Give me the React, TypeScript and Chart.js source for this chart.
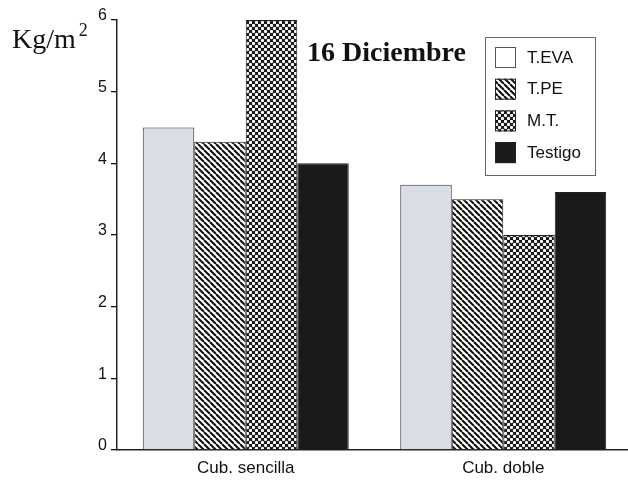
import React, { useEffect, useRef } from "react";
import { Chart, registerables } from "chart.js";

Chart.register(...registerables);

const categories = ["Cub. sencilla", "Cub. doble"];
const seriesNames = ["T.EVA", "T.PE", "M.T.", "Testigo"];
const tEva = [4.5, 3.7];
const tPe = [4.3, 3.5];
const mT = [6.0, 3.0];
const testigo = [4.0, 3.6];
const yTicks = [0, 1, 2, 3, 4, 5, 6];
const unitLabel = "Kg/m";
const unitSup = "2";
const dateTitle = "16 Diciembre";

function makeStripes(): CanvasPattern | string {
  const c = document.createElement("canvas");
  c.width = 6;
  c.height = 6;
  const g = c.getContext("2d");
  if (!g) return "#888";
  g.fillStyle = "#ffffff";
  g.fillRect(0, 0, 6, 6);
  g.strokeStyle = "#0d0d0d";
  g.lineWidth = 2.0;
  for (const k of [-6, 0, 6]) {
    g.beginPath();
    g.moveTo(k, 0);
    g.lineTo(k + 6, 6);
    g.stroke();
  }
  return g.createPattern(c, "repeat") || "#888";
}

function makeDots(): CanvasPattern | string {
  const c = document.createElement("canvas");
  c.width = 6;
  c.height = 6;
  const g = c.getContext("2d");
  if (!g) return "#777";
  g.fillStyle = "#151515";
  g.fillRect(0, 0, 6, 6);
  g.fillStyle = "#ffffff";
  for (const [x, y] of [[1.5, 1.5], [4.5, 4.5]]) {
    g.beginPath();
    g.arc(x, y, 1.65, 0, Math.PI * 2);
    g.fill();
  }
  return g.createPattern(c, "repeat") || "#777";
}

export default function App() {
  const ref = useRef<HTMLCanvasElement | null>(null);

  useEffect(() => {
    if (!ref.current) return;
    const stripes = makeStripes();
    const dots = makeDots();
    const fills: (string | CanvasPattern)[] = ["#d9dee5", stripes, dots, "#1a1a1a"];
    const values = [tEva, tPe, mT, testigo];

    const overlay = {
      id: "overlay",
      afterDraw(chart: any) {
        const ctx = chart.ctx as CanvasRenderingContext2D;
        ctx.save();
        ctx.fillStyle = "#111";
        ctx.textBaseline = "alphabetic";
        ctx.textAlign = "left";
        ctx.font = "28px 'Liberation Serif', 'Times New Roman', serif";
        ctx.fillText(unitLabel, 12, 48);
        const w = ctx.measureText(unitLabel).width;
        ctx.font = "18px 'Liberation Serif', 'Times New Roman', serif";
        ctx.fillText(unitSup, 12 + w + 3, 36);
        ctx.font = "bold 28px 'Liberation Serif', 'Times New Roman', serif";
        ctx.fillText(dateTitle, 307, 61);

        // legend
        ctx.strokeStyle = "#666";
        ctx.lineWidth = 1;
        ctx.strokeRect(485.5, 37.5, 110, 138);
        ctx.font = "17px 'Liberation Sans', Arial, sans-serif";
        ctx.textBaseline = "middle";
        chart.data.datasets.forEach((ds: any, i: number) => {
          const cy = 57 + i * 31.7;
          ctx.fillStyle = i === 0 ? "#ffffff" : ds.backgroundColor;
          ctx.fillRect(495, cy - 10, 21, 21);
          ctx.strokeStyle = i === 0 ? "#555" : "#222";
          ctx.lineWidth = 1;
          ctx.strokeRect(495.5, cy - 9.5, 20, 20);
          ctx.fillStyle = "#111";
          ctx.fillText(ds.label, 527, cy + 1);
        });
        ctx.restore();
      },
    };

    const chart = new Chart(ref.current, {
      type: "bar",
      data: {
        labels: categories,
        datasets: seriesNames.map((name, i) => ({
          label: name,
          data: values[i],
          backgroundColor: fills[i] as any,
          borderColor: i === 0 ? "#333" : "#222",
          borderWidth: 1,
          categoryPercentage: 0.8,
          barPercentage: 1.0,
        })),
      },
      options: {
        responsive: false,
        animation: false,
        layout: { padding: { top: 20, left: 0, right: 0, bottom: 0 } },
        plugins: {
          legend: { display: false },
          tooltip: { enabled: false },
          title: { display: false },
        },
        scales: {
          x: {
            grid: { display: false },
            border: { display: true, color: "#222", width: 1.5 },
            ticks: {
              color: "#111",
              padding: 0,
              font: { family: "'Liberation Sans', Arial, sans-serif", size: 17 },
            },
            afterFit(scale: any) {
              scale.height = 30;
            },
          },
          y: {
            min: 0,
            max: 6,
            afterBuildTicks(scale: any) {
              scale.ticks = yTicks.map((v) => ({ value: v }));
            },
            grid: {
              drawOnChartArea: false,
              drawTicks: true,
              tickLength: 6,
              color: "#111",
              lineWidth: 1.3,
            },
            border: { display: true, color: "#222", width: 1.5 },
            ticks: {
              color: "#111",
              padding: 4,
              labelOffset: -4,
              font: { family: "'Liberation Sans', Arial, sans-serif", size: 16 },
            },
            afterFit(scale: any) {
              scale.width = 117;
            },
          },
        },
      },
      plugins: [overlay],
    });
    return () => chart.destroy();
  }, []);

  return (
    <div
      style={{
        position: "absolute",
        left: 0,
        top: 0,
        width: 628,
        height: 480,
        overflow: "hidden",
        background: "#ffffff",
      }}
    >
      <canvas ref={ref} width={632} height={480} />
    </div>
  );
}
